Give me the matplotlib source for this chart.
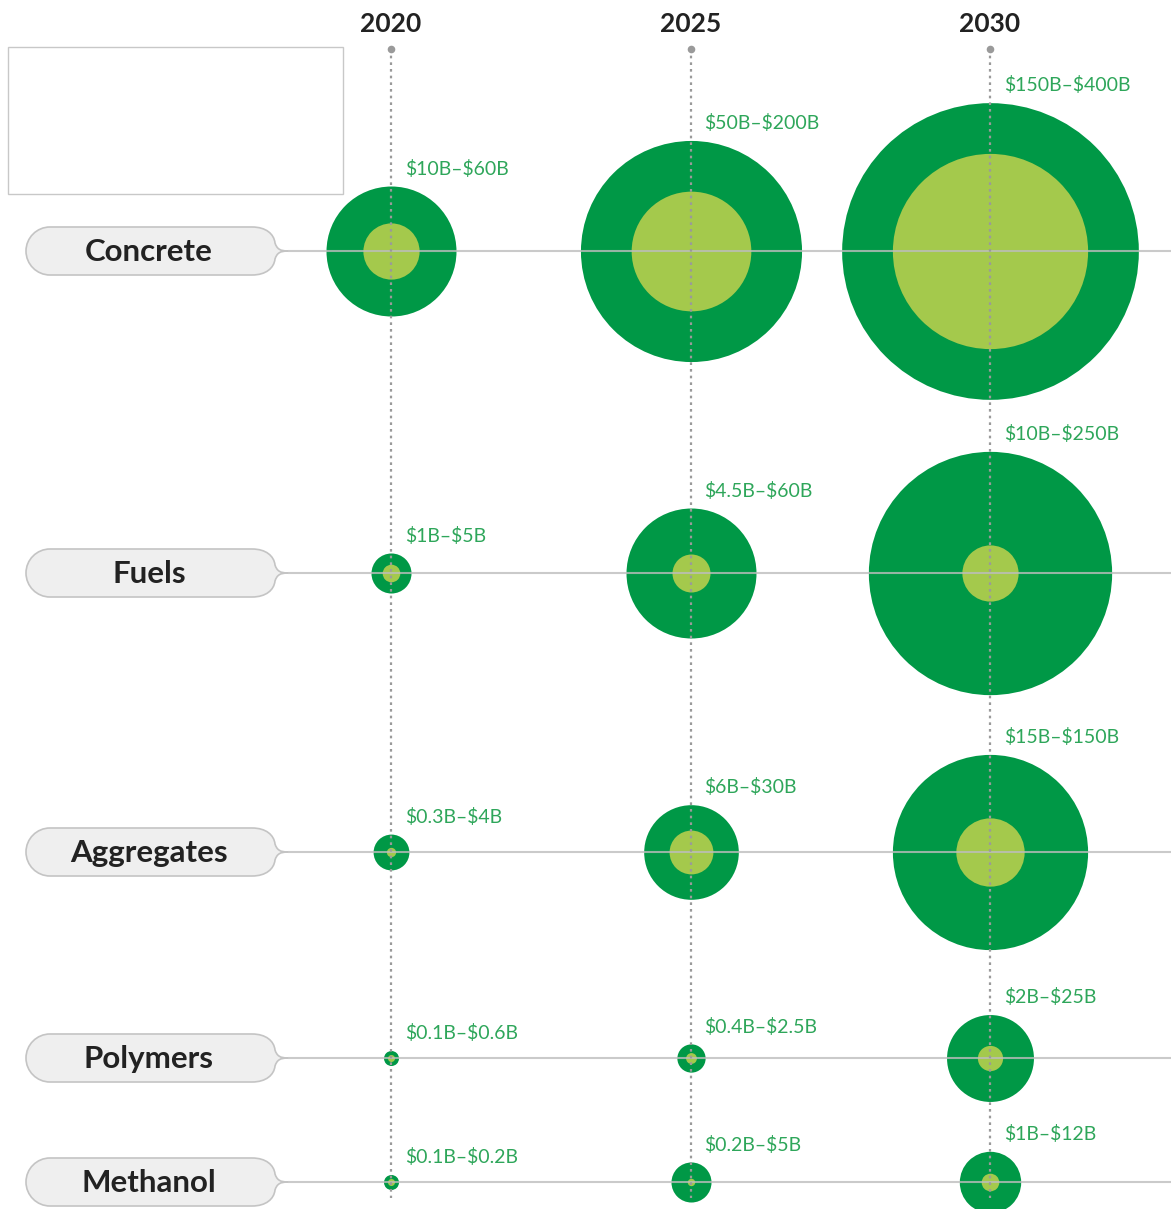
import numpy as np
import matplotlib.pyplot as plt
from matplotlib.path import Path
from matplotlib.patches import PathPatch, Rectangle

plt.rcParams['font.family'] = ['Lato', 'DejaVu Sans']

# datos: rango de mercado (miles de millones USD) por año
years = [2020, 2025, 2030]
categories = ['Concrete', 'Fuels', 'Aggregates', 'Polymers', 'Methanol']

concrete_low = [10, 50, 150]
concrete_high = [60, 200, 400]
fuels_low = [1, 4.5, 10]
fuels_high = [5, 60, 250]
aggregates_low = [0.3, 6, 15]
aggregates_high = [4, 30, 150]
polymers_low = [0.1, 0.4, 2]
polymers_high = [0.6, 2.5, 25]
methanol_low = [0.1, 0.2, 1]
methanol_high = [0.2, 5, 12]

lows = [concrete_low, fuels_low, aggregates_low, polymers_low, methanol_low]
highs = [concrete_high, fuels_high, aggregates_high, polymers_high, methanol_high]

# layout (pixeles)
W, H = 1171, 1209
row_y = [251, 573, 852, 1058, 1182]
px_per_year = 59.9
x_2020 = 391


def px_to_year(px):
    return 2020 + (px - x_2020) / px_per_year


def radius(v):
    # escala de tamaño (radio en px), ajustada a la grafica original
    x = np.log(v)
    return max(np.exp(2.175 + 0.5247 * x - 0.00889 * x * x), 3.5)


DARK = '#009846'
LIGHT = '#a4c94c'
TXT_GREEN = '#2ea65a'

fig = plt.figure(figsize=(W / 100, H / 100), dpi=100)
bg = fig.add_axes([0, 0, 1, 1])
bg.set_xlim(0, W)
bg.set_ylim(H, 0)
bg.axis('off')

ax = fig.add_axes([0, 0, 1, 1], facecolor='none')
ax.set_xlim(px_to_year(0), px_to_year(W))
ax.set_ylim(H, 0)
ax.axis('off')

# caja vacia arriba a la izquierda
bg.add_patch(Rectangle((8, 47), 335, 147, facecolor='white', edgecolor='#c8c8c8', lw=1))


def pill(cy, L=26, R=252, T=288, h=24):
    k = 0.5523 * h
    verts = [
        (L + h, cy - h),
        (R, cy - h),
        (R + 14, cy - h), (R + 22, cy - 17), (R + 23, cy - 8),
        (R + 25, cy - 2), (T - 8, cy), (T, cy),
        (T - 8, cy), (R + 25, cy + 2), (R + 23, cy + 8),
        (R + 22, cy + 17), (R + 14, cy + h), (R, cy + h),
        (L + h, cy + h),
        (L + h - k, cy + h), (L, cy + k), (L, cy),
        (L, cy - k), (L + h - k, cy - h), (L + h, cy - h),
        (L + h, cy - h),
    ]
    codes = [Path.MOVETO, Path.LINETO] + [Path.CURVE4] * 12 + [Path.LINETO] + [Path.CURVE4] * 6 + [Path.CLOSEPOLY]
    return PathPatch(Path(verts, codes), facecolor='#efefef', edgecolor='#c4c4c4', lw=1.2)


for name, cy in zip(categories, row_y):
    bg.add_patch(pill(cy))
    bg.text(149, cy + 1, name, ha='center', va='center', fontsize=22.5,
            fontweight='bold', color='#222222')

# burbujas
for lo, hi, cy in zip(lows, highs, row_y):
    for yr, vlo, vhi in zip(years, lo, hi):
        r_in = radius(vlo)
        r_out = max(radius(vhi), r_in + 4)
        ax.scatter([yr], [cy], s=(2 * r_out * 0.72) ** 2, color=DARK, lw=0, zorder=2)
        ax.scatter([yr], [cy], s=(2 * r_in * 0.72) ** 2, color=LIGHT, lw=0, zorder=2.1)
        label = f'\\${vlo:g}B–\\${vhi:g}B'
        ax.annotate(label, (yr, cy - r_out), xytext=(10, 12.5), textcoords='offset points',
                    ha='left', va='center', fontsize=14, color=TXT_GREEN, zorder=5)

# lineas horizontales
ax.hlines(row_y, px_to_year(288), px_to_year(W), color='#bdbdbd', lw=1.5, alpha=0.8, zorder=3)

# lineas verticales punteadas y años
for yr in years:
    ax.plot([yr, yr], [49, 1198], color='#9a9a9a', lw=1.6, linestyle=(0, (1.2, 1.8)), zorder=4)
    ax.scatter([yr], [49], s=30, color='#9a9a9a', lw=0, zorder=4)
    ax.text(yr, 24, str(yr), ha='center', va='center', fontsize=19,
            fontweight='bold', color='#222222')

plt.savefig('out.png', dpi=100)
